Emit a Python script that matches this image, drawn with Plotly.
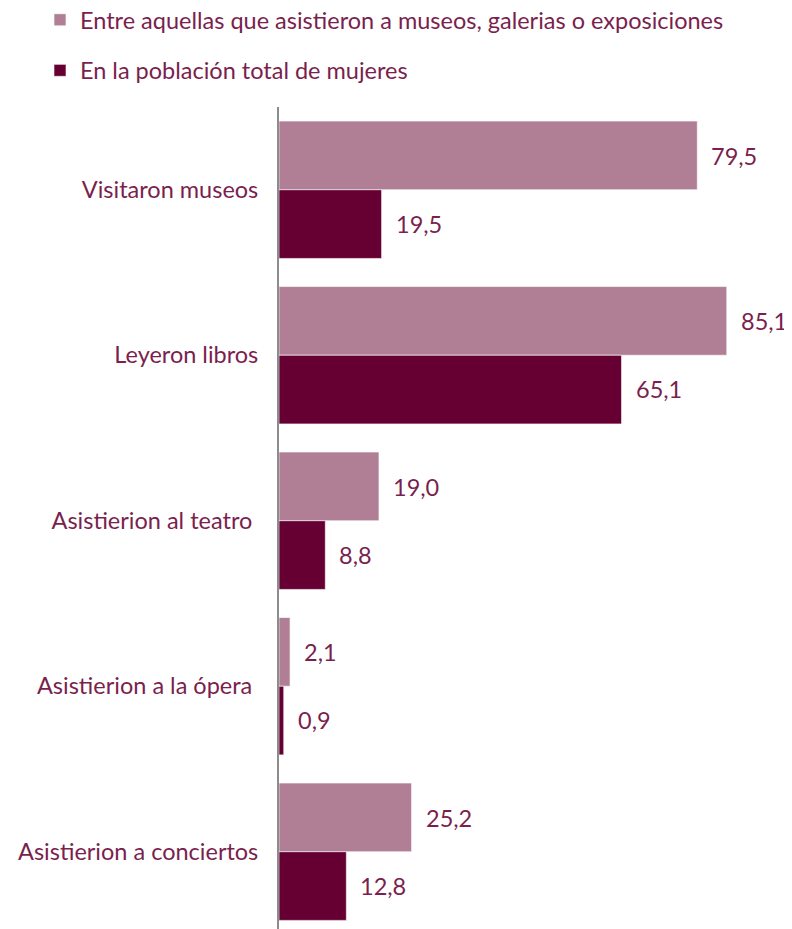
import plotly.graph_objects as go

categories = ["Visitaron museos", "Leyeron libros", "Asistierion al teatro\u00a0",
              "Asistierion a la ópera\u00a0", "Asistierion a conciertos"]
asistentes = [79.5, 85.1, 19.0, 2.1, 25.2]
poblacion_total = [19.5, 65.1, 8.8, 0.9, 12.8]
series_names = ["Entre aquellas que asistieron a museos, galerias o exposiciones",
                "En la población total de mujeres"]

LIGHT = "#b07f96"
DARK = "#660033"
TEXT = "#7a1f4e"
FONT = "Lato"
FS = 23.5

W, H = 784, 921
T_MARGIN = 99
PLOT_H = H - T_MARGIN

fig = go.Figure()
fig.add_trace(go.Bar(y=categories, x=asistentes, orientation="h", name=series_names[0],
                     marker=dict(color=LIGHT, line=dict(color="white", width=0.6)),
                     legendgroup="a"))
fig.add_trace(go.Bar(y=categories, x=poblacion_total, orientation="h", name=series_names[1],
                     marker=dict(color=DARK, line=dict(color="white", width=0.6)),
                     legendgroup="b"))

fmt = lambda v: f"{v:.1f}".replace(".", ",")
annotations = []
for c, v in zip(categories, asistentes):
    annotations.append(dict(x=v, y=c, text=fmt(v), xanchor="left", yanchor="middle",
                            xshift=12, yshift=34, showarrow=False,
                            font=dict(family=FONT, size=FS, color=TEXT)))
for c, v in zip(categories, poblacion_total):
    annotations.append(dict(x=v, y=c, text=fmt(v), xanchor="left", yanchor="middle",
                            xshift=12, yshift=-34, showarrow=False,
                            font=dict(family=FONT, size=FS, color=TEXT)))

fig.update_layout(
    width=W, height=H,
    margin=dict(l=271, r=0, t=T_MARGIN, b=0, autoexpand=False),
    paper_bgcolor="white", plot_bgcolor="white",
    barmode="group", bargap=0.17, bargroupgap=0,
    font=dict(family=FONT, size=FS, color=TEXT),
    showlegend=True,
    legend=dict(orientation="v", xref="container", yref="paper",
                x=32 / W, xanchor="left", y=1 + (T_MARGIN + 10) / PLOT_H, yanchor="top",
                tracegroupgap=17, traceorder="grouped",
                font=dict(family=FONT, size=FS, color=TEXT)),
    xaxis=dict(range=[0, 97.5], visible=False, showgrid=False, zeroline=False),
    yaxis=dict(type="category", range=[4.467, -0.5], autorange=False, automargin=False,
               showline=True, linecolor="#8c8c8c", linewidth=2,
               showgrid=False, zeroline=False, ticks="", ticklabelstandoff=14,
               tickfont=dict(family=FONT, size=FS, color=TEXT)),
    annotations=annotations,
)

fig.write_html("out.html")
